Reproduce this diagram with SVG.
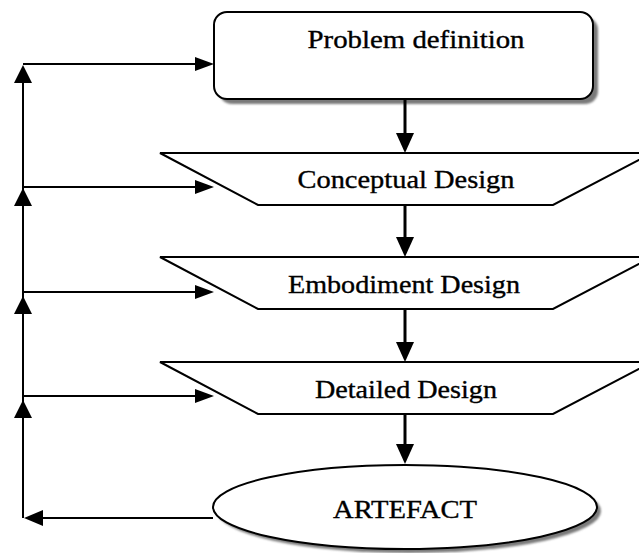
<svg xmlns="http://www.w3.org/2000/svg" width="639" height="553" viewBox="0 0 639 553">
  <style>
    .shape { fill: #ffffff; stroke: #000000; stroke-width: 2; }
    .shadow { fill: #7a7a7a; stroke: none; filter: url(#soft); }
    .label { font-family: "Liberation Serif", "Times New Roman", serif; font-size: 25px; fill: #000000; stroke: #000000; stroke-width: 0.35; text-anchor: middle; }
    .feedback { stroke: #000000; stroke-width: 2; fill: none; }
    .flow { stroke: #000000; stroke-width: 3; fill: none; }
    .head { fill: #000000; stroke: none; }
  </style>
  <defs>
    <filter id="soft" x="-5%" y="-10%" width="110%" height="120%">
      <feGaussianBlur stdDeviation="1.2"/>
    </filter>
  </defs>

  <!-- Nodes -->
  <g id="problem-definition">
    <rect class="shadow" x="219" y="17" width="379" height="87" rx="13"/>
    <rect class="shape" x="214" y="12" width="379" height="87" rx="13"/>
    <text class="label" x="416" y="48" textLength="217" lengthAdjust="spacingAndGlyphs">Problem definition</text>
  </g>

  <g id="conceptual-design">
    <polygon class="shape" points="160,153 652,153 553,205 258,205"/>
    <text class="label" x="406" y="188" textLength="217" lengthAdjust="spacingAndGlyphs">Conceptual Design</text>
  </g>

  <g id="embodiment-design">
    <polygon class="shape" points="160,257 652,257 553,309 258,309"/>
    <text class="label" x="404" y="293" textLength="232" lengthAdjust="spacingAndGlyphs">Embodiment Design</text>
  </g>

  <g id="detailed-design">
    <polygon class="shape" points="160,362 652,362 553,414 258,414"/>
    <text class="label" x="406" y="398" textLength="182" lengthAdjust="spacingAndGlyphs">Detailed Design</text>
  </g>

  <g id="artefact">
    <ellipse class="shadow" cx="409" cy="511" rx="192" ry="42"/>
    <ellipse class="shape" cx="405" cy="507" rx="192" ry="42"/>
    <text class="label" x="405" y="518" textLength="144" lengthAdjust="spacingAndGlyphs">ARTEFACT</text>
  </g>

  <!-- Connectors -->
  <g id="connectors">
    <!-- main downward flow -->
    <line class="flow" x1="405" y1="99" x2="405" y2="140"/>
    <polygon class="head" points="396,133 414,133 405,153"/>
    <line class="flow" x1="405" y1="205" x2="405" y2="244"/>
    <polygon class="head" points="396,237 414,237 405,257"/>
    <line class="flow" x1="405" y1="309" x2="405" y2="349"/>
    <polygon class="head" points="396,342 414,342 405,362"/>
    <line class="flow" x1="405" y1="414" x2="405" y2="451"/>
    <polygon class="head" points="396,444 414,444 405,464"/>

    <!-- feedback loop from the artefact back up the left side -->
    <polyline class="feedback" points="213,518 30,518"/>
    <polygon class="head" points="24,518 43,510 43,526"/>
    <line class="feedback" x1="23" y1="518" x2="23" y2="70"/>
    <polygon class="head" points="23,65 14,83 32,83"/>
    <polygon class="head" points="23,188 14,206 32,206"/>
    <polygon class="head" points="23,296 14,314 32,314"/>
    <polygon class="head" points="23,400 14,418 32,418"/>

    <!-- feedback branches into each stage -->
    <line class="feedback" x1="23" y1="64" x2="200" y2="64"/>
    <polygon class="head" points="214,64 195,57 195,71"/>
    <line class="feedback" x1="23" y1="187" x2="200" y2="187"/>
    <polygon class="head" points="214,187 195,180 195,194"/>
    <line class="feedback" x1="23" y1="292" x2="200" y2="292"/>
    <polygon class="head" points="214,292 195,285 195,299"/>
    <line class="feedback" x1="23" y1="396" x2="200" y2="396"/>
    <polygon class="head" points="214,396 195,389 195,403"/>
  </g>
</svg>
